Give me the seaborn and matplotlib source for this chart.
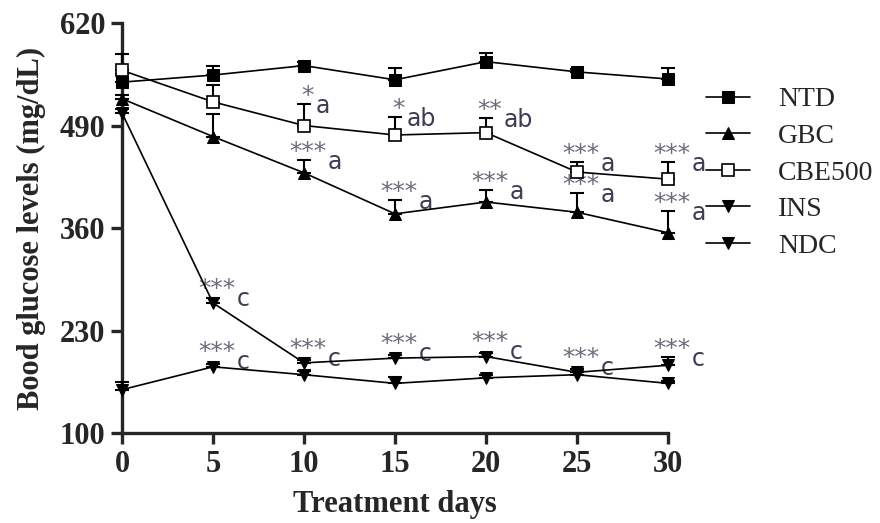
import numpy as np
import pandas as pd
import seaborn as sns
import matplotlib.pyplot as plt

days = [0, 5, 10, 15, 20, 25, 30]
groups = ["NTD", "GBC", "CBE500", "INS", "NDC"]

ntd = [545, 554, 566, 548, 571, 558, 549]
ntd_err = [10, 12, 4, 15, 11, 4, 14]
gbc = [524, 476, 430, 378, 393, 380, 354]
gbc_err = [5, 28, 16, 18, 15, 24, 27]
cbe = [560, 520, 490, 478, 481, 431, 422]
cbe_err = [21, 22, 27, 23, 19, 13, 22]
ins = [506, 265, 189, 195, 197, 177, 186]
ins_err = [5, 6, 4, 4, 4, 4, 10]
ndc = [155, 184, 174, 163, 170, 174, 163]
ndc_err = [10, 3, 5, 8, 4, 3, 3]

# (group, day, stars, letter)
sig_labels = [
    ("CBE500", 10, "*", "a"), ("CBE500", 15, "*", "ab"), ("CBE500", 20, "**", "ab"),
    ("CBE500", 25, "***", "a"), ("CBE500", 30, "***", "a"),
    ("GBC", 10, "***", "a"), ("GBC", 15, "***", "a"), ("GBC", 20, "***", "a"),
    ("GBC", 25, "***", "a"), ("GBC", 30, "***", "a"),
    ("INS", 5, "***", "c"), ("INS", 10, "***", "c"), ("INS", 15, "***", "c"),
    ("INS", 20, "***", "c"), ("INS", 25, "***", "c"), ("INS", 30, "***", "c"),
    ("NDC", 5, "***", "c"),
]

means = {"NTD": ntd, "GBC": gbc, "CBE500": cbe, "INS": ins, "NDC": ndc}
errs = {"NTD": ntd_err, "GBC": gbc_err, "CBE500": cbe_err, "INS": ins_err, "NDC": ndc_err}

df = pd.DataFrame([
    {"day": d, "value": v, "group": g}
    for g in groups for d, v in zip(days, means[g])
])

sns.set_style("ticks")
plt.rcParams["font.family"] = ["Liberation Serif", "DejaVu Serif"]

fig = plt.figure(figsize=(8.8, 5.23), dpi=100)
ax = fig.add_axes([0.1386, 0.172, 0.6205, 0.784])

markers = {"NTD": "s", "GBC": "^", "CBE500": "s", "INS": "v", "NDC": "v"}
sns.lineplot(data=df, x="day", y="value", hue="group", style="group",
             hue_order=groups, style_order=groups,
             palette=["black"] * 5, markers=markers, dashes=False,
             errorbar=None, legend=False, linewidth=1.2, markersize=9, ax=ax)

handles = list(ax.lines[:5])
for line, g in zip(handles, groups):
    line.set_clip_on(False)
    line.set_zorder(4)
    line.set_markeredgecolor("black")
    if g == "CBE500":
        line.set_markerfacecolor("white")
        line.set_markersize(8)
        line.set_markeredgewidth(1.2)

for g in groups:
    eb = ax.errorbar(days, means[g], yerr=[np.zeros(len(days)), errs[g]],
                     fmt="none", ecolor="black", elinewidth=1.5,
                     capsize=5, capthick=1.5, zorder=3)
    for art in eb.get_children():
        art.set_clip_on(False)

# significance marks
for g, d, stars, letter in sig_labels:
    i = days.index(d)
    top = means[g][i] + max(errs[g][i], 8)
    n = len(stars)
    ax.annotate(stars, (d, top), xytext=(4 + 6 * n, 8), textcoords="offset pixels",
                ha="right", va="center", fontsize=18, color="#6b6b7b",
                family="DejaVu Sans")
    ax.annotate(letter, (d, top), xytext=(6 + 6 * n, -2), textcoords="offset pixels",
                ha="left", va="center", fontsize=17, color="#3c3c52",
                family="DejaVu Sans")

ax.set_xlim(0, 30)
ax.set_ylim(100, 620)
ax.set_xticks(days)
ax.set_yticks([100, 230, 360, 490, 620])
ax.tick_params(axis="both", direction="out", length=8, width=2.4,
               labelsize=22, pad=4)
for lab in ax.get_xticklabels() + ax.get_yticklabels():
    lab.set_fontweight("bold")
for side in ["left", "bottom"]:
    ax.spines[side].set_linewidth(2.4)
sns.despine(ax=ax)

ax.set_xlabel("Treatment days", fontsize=22, fontweight="bold", labelpad=8)
ax.set_ylabel("Bood glucose levels (mg/dL)", fontsize=22, fontweight="bold", labelpad=10)

fig.legend(handles, groups, loc="upper left", bbox_to_anchor=(706 / 880, 1 - 87 / 523),
           frameon=False, fontsize=20, handlelength=1.6, handletextpad=1.0,
           labelspacing=0.4, borderpad=0, borderaxespad=0)

fig.savefig("out.png", dpi=100)
plt.close(fig)
